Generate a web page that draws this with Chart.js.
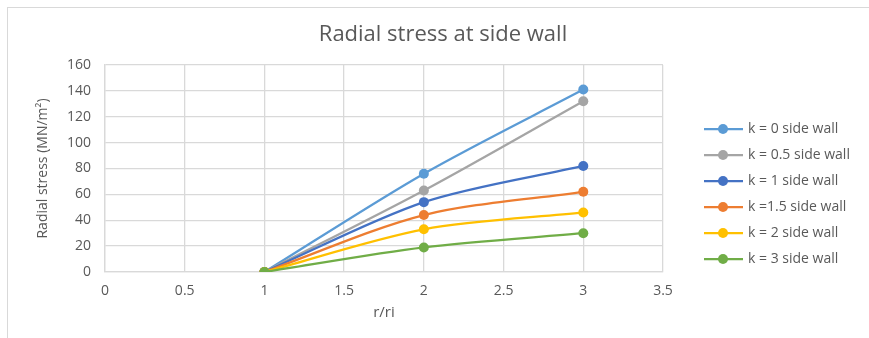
<!DOCTYPE html>
<html>
<head>
<meta charset="utf-8">
<script src="https://cdn.jsdelivr.net/npm/chart.js@4"></script>
<style>
  html, body { margin: 0; padding: 0; background: #fff; }
  #wrap { position: relative; width: 869px; height: 338px; overflow: hidden; }
  #frame { position: absolute; left: 7px; top: 7px; width: 900px; height: 400px;
           border-left: 1.5px solid #d9d9d9; border-top: 1.5px solid #d9d9d9; }
  #chart { position: absolute; left: 0; top: 0; }
</style>
</head>
<body>
<div id="wrap">
  <div id="frame"></div>
  <canvas id="chart" width="869" height="338"></canvas>
</div>
<script>
const radii = [1, 2, 3];
const k0 = [0, 76, 141];
const k05 = [0, 63, 132];
const k1 = [0, 54, 82];
const k15 = [0, 44, 62];
const k2 = [0, 33, 46];
const k3 = [0, 19, 30];

const seriesNames = ["k = 0 side wall", "k = 0.5 side wall", "k = 1 side wall", "k =1.5 side wall", "k = 2 side wall", "k = 3 side wall"];
const seriesColors = ["#5B9BD5", "#A5A5A5", "#4472C4", "#ED7D31", "#FFC000", "#70AD47"];
const seriesValues = [k0, k05, k1, k15, k2, k3];
const chartTitle = "Radial stress at side wall";

const textColor = "#595959";
const gridColor = "#d9d9d9";
const fontFamily = "'Open Sans', sans-serif";

const datasets = seriesValues.map((vals, i) => ({
    label: seriesNames[i],
    data: vals.map((v, j) => ({ x: radii[j], y: v })),
    borderColor: seriesColors[i],
    backgroundColor: seriesColors[i],
    borderWidth: 2.25,
    pointRadius: 5,
    pointBorderWidth: 0,
    tension: 0.3,
    fill: false,
    order: seriesValues.length - i   // later series sit on top
}));

// title plus the legend on the right: short line with a dot, then the label
const sideLegend = {
    id: "sideLegend",
    afterDraw(chart) {
        const ctx = chart.ctx;
        ctx.save();
        ctx.textBaseline = "middle";
        ctx.fillStyle = textColor;
        ctx.font = "22px " + fontFamily;
        ctx.textAlign = "center";
        ctx.fillText(chartTitle, 443, 35);

        ctx.textAlign = "left";
        ctx.font = "14px " + fontFamily;
        seriesNames.forEach((name, i) => {
            const y = 129 + i * 26;
            ctx.strokeStyle = seriesColors[i];
            ctx.lineWidth = 2.25;
            ctx.beginPath();
            ctx.moveTo(704, y);
            ctx.lineTo(743, y);
            ctx.stroke();
            ctx.fillStyle = seriesColors[i];
            ctx.beginPath();
            ctx.arc(723, y, 5, 0, Math.PI * 2);
            ctx.fill();
            ctx.fillStyle = textColor;
            ctx.fillText(name, 748, y);
        });
        ctx.restore();
    }
};

new Chart(document.getElementById("chart").getContext("2d"), {
    type: "line",
    data: { datasets },
    plugins: [sideLegend],
    options: {
        responsive: false,
        animation: false,
        layout: { padding: { left: 30, right: 206, top: 65, bottom: 14 } },
        plugins: {
            legend: { display: false },
            tooltip: { enabled: false },
            title: { display: false }
        },
        scales: {
            x: {
                type: "linear",
                min: 0,
                max: 3.5,
                afterFit(scale) { scale.height = 52; },
                ticks: { stepSize: 0.5, color: textColor, font: { family: fontFamily, size: 14 }, padding: 11,
                         callback: v => String(v) },
                grid: { color: gridColor, lineWidth: 1.3, drawTicks: false },
                border: { color: gridColor, width: 1.3 },
                title: { display: true, text: "r/ri", color: textColor, font: { family: fontFamily, size: 15 }, padding: { top: 0, bottom: 2 } }
            },
            y: {
                min: 0,
                max: 160,
                afterFit(scale) { scale.width = 75; },
                ticks: { stepSize: 20, color: textColor, font: { family: fontFamily, size: 14 }, padding: 14 },
                grid: { color: gridColor, lineWidth: 1.3, drawTicks: false },
                border: { color: gridColor, width: 1.3 },
                title: { display: true, text: "Radial stress (MN/m²)", color: textColor, font: { family: fontFamily, size: 14 }, padding: { top: 5, bottom: 0 } }
            }
        }
    }
});
</script>
</body>
</html>
